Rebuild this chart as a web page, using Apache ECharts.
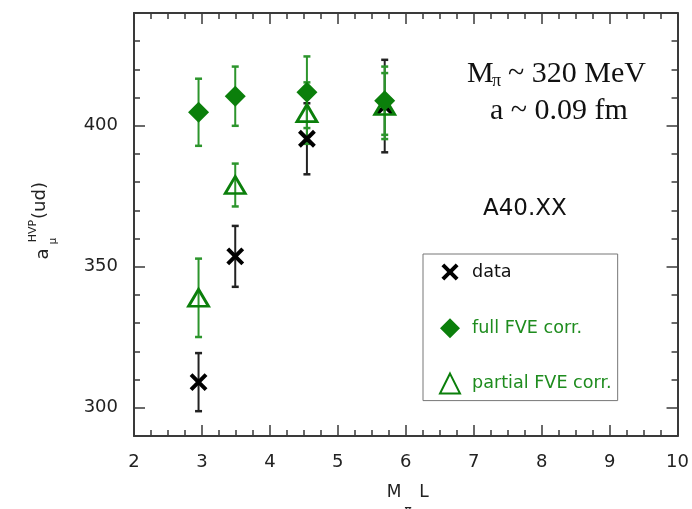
<!DOCTYPE html>
<html>
<head>
<meta charset="utf-8">
<script src="https://cdn.jsdelivr.net/npm/echarts@6/dist/echarts.min.js"></script>
<style>
  html, body { margin: 0; padding: 0; background: #fff; }
  #chart { width: 692px; height: 509px; }
</style>
</head>
<body>
<div id="chart"></div>
<script>
// M_pi L for each ensemble
const boxSizes = [2.95, 3.49, 4.545, 5.69];

// a_mu^HVP(ud): raw lattice data and its errors
const dataVals = [309.1, 353.7, 395.4, 407.0];
const dataErrs = [10.3, 10.8, 12.6, 16.4];

// with full finite-volume correction
const fullVals = [404.8, 410.5, 411.9, 408.9];
const fullErrs = [11.9, 10.5, 12.7, 12.1];

// with partial finite-volume correction
const partialVals = [339.0, 379.0, 404.5, 407.0];
const partialErrs = [13.9, 7.6, 10.9, 11.7];

// axis ticks
const yMajorTicks = [300, 350, 400];
const yMinorTicks = [290, 300, 310, 320, 330, 340, 350, 360, 370, 380, 390, 400, 410, 420, 430, 440];

const AXIS_COLOR = '#3a3a3a';
const GREEN = '#0b7f0b';
const GREEN_BAR = '#2c952c';
const GREEN_TEXT = '#1e8c1e';
const SANS = 'DejaVu Sans';
const SERIF = 'Liberation Serif';

// cross symbol with a little empty margin so it sits smaller inside its box
const CROSS = 'path://M-2,-2M0,0L10,10M10,0L0,10M12,12';

const chart = echarts.init(document.getElementById('chart'), null, { renderer: 'canvas' });

function points(vals) {
  return boxSizes.map((x, i) => [x, vals[i]]);
}

// vertical error bar with small caps
function errorBars(vals, errs, color, z) {
  return {
    type: 'custom',
    silent: true,
    z: z,
    xAxisIndex: 0,
    yAxisIndex: 0,
    data: boxSizes.map((x, i) => [x, vals[i] - errs[i], vals[i] + errs[i]]),
    renderItem: function (params, api) {
      const lo = api.coord([api.value(0), api.value(1)]);
      const hi = api.coord([api.value(0), api.value(2)]);
      const cap = 3.5;
      return {
        type: 'group',
        children: [
          { type: 'line', shape: { x1: lo[0], y1: lo[1], x2: hi[0], y2: hi[1] },
            style: { stroke: color, lineWidth: 2 } },
          { type: 'line', shape: { x1: lo[0] - cap, y1: lo[1], x2: lo[0] + cap, y2: lo[1] },
            style: { stroke: color, lineWidth: 2.5 } },
          { type: 'line', shape: { x1: hi[0] - cap, y1: hi[1], x2: hi[0] + cap, y2: hi[1] },
            style: { stroke: color, lineWidth: 2.5 } }
        ]
      };
    }
  };
}

const commonAxisLine = { show: true, lineStyle: { color: AXIS_COLOR, width: 2 } };
const tickStyle = { color: AXIS_COLOR, width: 1.5 };

function xAxisDef(position, showLabel) {
  return {
    type: 'value', min: 2, max: 10, interval: 1, position: position,
    axisLine: commonAxisLine,
    axisTick: { show: true, inside: true, length: 11, lineStyle: tickStyle },
    minorTick: { show: true, splitNumber: 4, length: 6, lineStyle: tickStyle },
    axisLabel: { show: showLabel, fontSize: 18, fontFamily: SANS, color: '#222', margin: 17 },
    splitLine: { show: false },
    minorSplitLine: { show: false }
  };
}

function yAxisDef(position, ticks, len, showLine, showLabel) {
  return {
    type: 'value', min: 290, max: 440, position: position,
    axisLine: showLine ? commonAxisLine : { show: false },
    axisTick: { show: true, inside: true, length: len, lineStyle: tickStyle, customValues: ticks },
    axisLabel: { show: showLabel, customValues: yMajorTicks, fontSize: 18, fontFamily: SANS, color: '#222', margin: 16 },
    splitLine: { show: false }
  };
}

const option = {
  animation: false,
  backgroundColor: '#fff',
  grid: { left: 134, right: 10, top: 13, bottom: 73, containLabel: false },
  xAxis: [xAxisDef('bottom', true), xAxisDef('top', false)],
  yAxis: [
    yAxisDef('left', yMajorTicks, 11, true, true),
    yAxisDef('left', yMinorTicks, 6, false, false),
    yAxisDef('right', yMajorTicks, 11, true, false),
    yAxisDef('right', yMinorTicks, 6, false, false)
  ],
  legend: {
    orient: 'vertical',
    left: 423, top: 254,
    padding: [6, 6, 6, 15],
    itemGap: 34.3,
    itemWidth: 20, itemHeight: 20,
    borderColor: '#777', borderWidth: 1,
    backgroundColor: '#fff',
    selectedMode: false,
    textStyle: { fontSize: 17.6, fontFamily: SANS, padding: [0, 0, 0, 7] },
    data: [
      { name: 'data', textStyle: { color: '#111' },
        itemStyle: { color: 'rgba(0,0,0,0)', borderColor: '#000', borderWidth: 4 } },
      { name: 'full FVE corr.', textStyle: { color: GREEN_TEXT } },
      { name: 'partial FVE corr.', textStyle: { color: GREEN_TEXT } }
    ]
  },
  series: [
    errorBars(dataVals, dataErrs, '#222', 2),
    errorBars(partialVals, partialErrs, GREEN_BAR, 2),
    errorBars(fullVals, fullErrs, GREEN_BAR, 2),
    {
      name: 'data', type: 'scatter', z: 3,
      data: points(dataVals),
      symbol: CROSS,
      symbolSize: 21,
      itemStyle: { color: 'rgba(0,0,0,0)', borderColor: '#000', borderWidth: 4, opacity: 1 },
      emphasis: { disabled: true }, silent: true
    },
    {
      name: 'partial FVE corr.', type: 'scatter', z: 4,
      data: points(partialVals),
      symbol: 'triangle',
      symbolSize: [20, 17],
      itemStyle: { color: 'rgba(255,255,255,0)', borderColor: GREEN, borderWidth: 2.8, opacity: 1 },
      emphasis: { disabled: true }, silent: true
    },
    {
      name: 'full FVE corr.', type: 'scatter', z: 5,
      data: points(fullVals),
      symbol: 'diamond',
      symbolSize: 21,
      itemStyle: { color: GREEN, opacity: 1 },
      emphasis: { disabled: true }, silent: true
    }
  ],
  graphic: [
    // ensemble parameters
    { type: 'text', x: 467, y: 74, style: { text: 'M', font: '30px "' + SERIF + '"', fill: '#111', align: 'left', verticalAlign: 'middle' } },
    { type: 'text', x: 492, y: 81, style: { text: 'π', font: '18px "' + SERIF + '"', fill: '#111', align: 'left', verticalAlign: 'middle' } },
    { type: 'text', x: 508, y: 74, style: { text: '~ 320 MeV', font: '30px "' + SERIF + '"', fill: '#111', align: 'left', verticalAlign: 'middle' } },
    { type: 'text', x: 490, y: 111.5, style: { text: 'a ~ 0.09 fm', font: '30px "' + SERIF + '"', fill: '#111', align: 'left', verticalAlign: 'middle' } },
    { type: 'text', x: 483, y: 209, style: { text: 'A40.XX', font: '23px "' + SANS + '"', fill: '#111', align: 'left', verticalAlign: 'middle' } },

    // y-axis title: a_mu^HVP(ud), rotated
    { type: 'text', x: 43, y: 254, rotation: Math.PI / 2, style: { text: 'a', font: '18px "' + SANS + '"', fill: '#222', align: 'center', verticalAlign: 'middle' } },
    { type: 'text', x: 33, y: 231, rotation: Math.PI / 2, style: { text: 'HVP', font: '11px "' + SANS + '"', fill: '#222', align: 'center', verticalAlign: 'middle' } },
    { type: 'text', x: 53, y: 241, rotation: Math.PI / 2, style: { text: 'μ', font: '10px "' + SANS + '"', fill: '#222', align: 'center', verticalAlign: 'middle' } },
    { type: 'text', x: 40, y: 200.5, rotation: Math.PI / 2, style: { text: '(ud)', font: '18px "' + SANS + '"', fill: '#222', align: 'center', verticalAlign: 'middle' } },

    // x-axis title: M_pi L
    { type: 'text', x: 394, y: 493, style: { text: 'M', font: '17px "' + SANS + '"', fill: '#222', align: 'center', verticalAlign: 'middle' } },
    { type: 'text', x: 408, y: 511, style: { text: 'π', font: '12px "' + SANS + '"', fill: '#222', align: 'center', verticalAlign: 'middle' } },
    { type: 'text', x: 424, y: 493, style: { text: 'L', font: '17px "' + SANS + '"', fill: '#222', align: 'center', verticalAlign: 'middle' } }
  ]
};

chart.setOption(option);
</script>
</body>
</html>
